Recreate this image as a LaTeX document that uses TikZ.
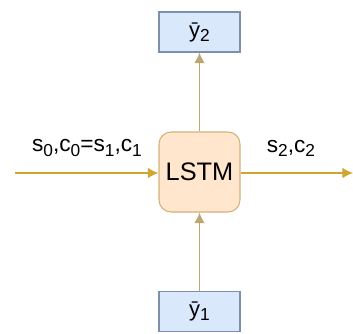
\documentclass[tikz,border=0pt]{standalone}
\usepackage{fontspec}
\setmainfont{Liberation Sans}
\usetikzlibrary{arrows.meta}
\definecolor{lstmfill}{HTML}{FFE6CC}
\definecolor{lstmdraw}{HTML}{D4B07A}
\definecolor{yfill}{HTML}{DAE8FC}
\definecolor{ydraw}{HTML}{7E8FA8}
\definecolor{harrow}{HTML}{CFA630}
\definecolor{varrow}{HTML}{BFA66E}
\newcommand{\sbx}[1]{\raisebox{-0.35ex}{\fontsize{13}{15}\selectfont #1}}
\tikzset{
  ybox/.style={draw=ydraw, fill=yfill, line width=0.8pt, minimum width=81*0.75pt, minimum height=40*0.75pt, inner sep=0pt, font=\fontsize{16.5}{18}\selectfont},
  lstmbox/.style={draw=lstmdraw, fill=lstmfill, line width=0.8pt, rounded corners=9pt, minimum width=81*0.75pt, minimum height=80*0.75pt, inner sep=0pt, font=\fontsize{19}{21}\selectfont},
  harr/.style={draw=harrow, line width=1pt, -{Latex[length=8pt,width=8pt]}},
  varr/.style={draw=varrow, line width=1.1pt, -{Latex[length=8pt,width=8pt]}},
  lbl/.style={inner sep=0pt, font=\fontsize{17}{19}\selectfont}
}
\begin{document}
\begin{tikzpicture}[x=0.75pt,y=-0.75pt]
\useasboundingbox (0,0) rectangle (353,333);
\node[ybox] (y2) at (199.5,32) {ȳ\sbx{2}};
\node[lstmbox] (lstm) at (199.5,172) {LSTM};
\node[ybox] (y1) at (199.5,311.5) {ȳ\sbx{1}};
\coordinate (in) at (15,173);
\coordinate (out) at (353,173);
\draw[harr] (in) -- (in -| lstm.west);
\draw[harr] (out -| lstm.east) -- (out);
\draw[varr] (lstm.north) -- (y2.south);
\draw[varr] (y1.north) -- (lstm.south);
\node[lbl] (l1) at (87,148) {s\sbx{0},c\sbx{0}=s\sbx{1},c\sbx{1}};
\node[lbl] (l2) at (291,148) {s\sbx{2},c\sbx{2}};
\end{tikzpicture}
\end{document}
